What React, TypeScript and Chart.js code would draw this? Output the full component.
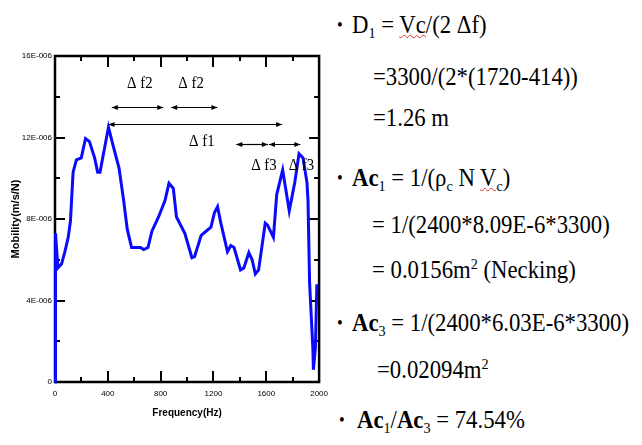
import React, { useEffect, useRef } from 'react';
import { Chart, registerables } from 'chart.js';

Chart.register(...registerables);

// Frequency (Hz)
const freqHz = [
  0, 4, 22, 50, 75, 100, 117, 127, 137, 162, 199, 231, 261, 300, 323, 341, 370, 405, 440, 485,
  520, 547, 580, 647, 672, 704, 734, 784, 833, 863, 896, 920, 983, 1037, 1057, 1107, 1144, 1181,
  1207, 1231, 1256, 1306, 1331, 1356, 1405, 1430, 1468, 1493, 1517, 1542, 1592, 1610, 1654, 1679,
  1724, 1774, 1816, 1848, 1878, 1908, 1916, 1928, 1953, 1957, 1972, 1983,
];
// Mobility, in units of 1E-006 m/s/N
const mobility = [
  0, 7.3, 5.6, 5.8, 6.4, 7.1, 7.9, 9.1, 10.3, 10.9, 11.0, 11.95, 11.8, 11.0, 10.3, 10.3, 11.3, 12.5, 11.6, 10.5,
  8.9, 7.5, 6.6, 6.6, 6.5, 6.6, 7.4, 8.1, 8.9, 9.75, 9.5, 8.1, 7.3, 6.1, 6.15, 7.2, 7.4, 7.6,
  8.3, 8.6, 7.8, 6.4, 6.7, 6.6, 5.5, 5.6, 6.35, 6.0, 5.3, 5.5, 7.8, 7.7, 7.1, 9.2,
  10.4, 8.4, 9.8, 11.2, 11.0, 9.8, 8.9, 4.85, 1.6, 0.6, 1.7, 4.8,
];

const xMin = 0;
const xMax = 2000;
const xMajorStep = 400;
const xMinorStep = 200;
const yMin = 0;
const yMax = 16;
const yMajorStep = 4;
const yMinorStep = 2;
const yTickLabels = ['0', '4E-006', '8E-006', '12E-006', '16E-006'];

// Dimension arrows (Hz from, Hz to, level in 1E-006)
const arrowFrom = [430, 880, 405, 1373, 1620];
const arrowTo = [820, 1230, 1720, 1612, 1858];
const arrowLevel = [13.5, 13.5, 12.65, 11.7, 11.7];

// Arrow labels
const annoText = ['\u0394 f2', '\u0394 f2', '\u0394 f1', '\u0394 f3', '\u0394 f3'];
const annoFreq = [642, 1030, 1112, 1582, 1866];
const annoLevel = [14.63, 14.63, 11.78, 10.6, 10.6];

const framePlugin = {
  id: 'frameTicks',
  beforeDatasetsDraw(chart: any) {
    const { ctx, chartArea: a, scales } = chart;
    const x = scales.x;
    const y = scales.y;
    ctx.save();
    ctx.strokeStyle = '#000';
    ctx.lineWidth = 2;
    ctx.beginPath();
    for (let f = xMin; f <= xMax; f += xMinorStep) {
      const px = Math.round(x.getPixelForValue(f));
      const len = f % xMajorStep === 0 ? 11 : 5;
      ctx.moveTo(px, a.bottom);
      ctx.lineTo(px, a.bottom - len);
      ctx.moveTo(px, a.top);
      ctx.lineTo(px, a.top + len);
    }
    for (let v = yMin; v <= yMax; v += yMinorStep) {
      const py = Math.round(y.getPixelForValue(v));
      const len = v % yMajorStep === 0 ? 10 : 5;
      ctx.moveTo(a.left, py);
      ctx.lineTo(a.left + len, py);
      ctx.moveTo(a.right, py);
      ctx.lineTo(a.right - len, py);
    }
    ctx.stroke();
    ctx.lineWidth = 2.5;
    ctx.strokeRect(a.left, a.top, a.right - a.left, a.bottom - a.top);
    ctx.restore();
  },
  afterDatasetsDraw(chart: any) {
    const { ctx, scales } = chart;
    const x = scales.x;
    const y = scales.y;
    ctx.save();
    ctx.strokeStyle = '#000';
    ctx.fillStyle = '#000';
    ctx.lineWidth = 1.2;
    const head = (px: number, py: number, dir: number) => {
      ctx.beginPath();
      ctx.moveTo(px, py);
      ctx.lineTo(px - dir * 6, py - 2.6);
      ctx.lineTo(px - dir * 6, py + 2.6);
      ctx.closePath();
      ctx.fill();
    };
    for (let i = 0; i < arrowFrom.length; i++) {
      const x1 = x.getPixelForValue(arrowFrom[i]);
      const x2 = x.getPixelForValue(arrowTo[i]);
      const py = Math.round(y.getPixelForValue(arrowLevel[i])) + 0.5;
      ctx.beginPath();
      ctx.moveTo(x1, py);
      ctx.lineTo(x2, py);
      ctx.stroke();
      head(x1, py, -1);
      head(x2, py, 1);
    }
    ctx.font = '17px "Liberation Serif", "Times New Roman", serif';
    ctx.textAlign = 'center';
    ctx.textBaseline = 'middle';
    for (let i = 0; i < annoText.length; i++) {
      const px = x.getPixelForValue(annoFreq[i]);
      const py = y.getPixelForValue(annoLevel[i]);
      ctx.save();
      ctx.translate(px, py);
      ctx.scale(0.87, 1);
      ctx.fillText(annoText[i], 0, 0);
      ctx.restore();
    }
    ctx.restore();
  },
};

const serif = '"Liberation Serif", "Times New Roman", serif';

const lineStyle = (left: number, centerY: number): React.CSSProperties => ({
  position: 'absolute',
  left,
  top: centerY - 15,
  fontFamily: serif,
  fontSize: 25,
  lineHeight: '30px',
  whiteSpace: 'nowrap',
  color: '#000',
  transform: 'scaleX(0.91)',
  transformOrigin: 'left center',
});

const subStyle: React.CSSProperties = { fontSize: '62%', verticalAlign: '-0.3em', lineHeight: 0 };
const supStyle: React.CSSProperties = { fontSize: '62%', verticalAlign: '0.55em', lineHeight: 0 };
const wavy: React.CSSProperties = {
  textDecorationLine: 'underline',
  textDecorationStyle: 'wavy',
  textDecorationColor: '#e03030',
  textDecorationThickness: '1px',
};

const Bullet = ({ left, centerY }: { left: number; centerY: number }) => (
  <div style={{ ...lineStyle(left, centerY), fontSize: 18 }}>{'\u2022'}</div>
);

export default function App() {
  const canvasRef = useRef<HTMLCanvasElement | null>(null);

  useEffect(() => {
    const canvas = canvasRef.current;
    if (!canvas) return;
    const chart = new Chart(canvas, {
      type: 'line',
      data: {
        datasets: [
          {
            data: freqHz.map((f, i) => ({ x: f, y: mobility[i] })),
            borderColor: '#0a0aff',
            borderWidth: 3,
            pointRadius: 0,
            tension: 0,
            fill: false,
            clip: 4,
          } as any,
        ],
      },
      options: {
        responsive: false,
        animation: false,
        events: [],
        layout: { padding: { left: 0, right: 12, top: 56, bottom: 0 } },
        plugins: {
          legend: { display: false },
          tooltip: { enabled: false },
          title: { display: false },
        },
        scales: {
          x: {
            type: 'linear',
            min: xMin,
            max: xMax,
            grid: { display: false, drawTicks: false },
            border: { display: false },
            ticks: {
              stepSize: xMajorStep,
              padding: 7,
              color: '#000',
              font: { family: '"Liberation Sans", Arial, sans-serif', size: 8 },
              maxRotation: 0,
              callback: (v: any) => String(v),
            },
            title: {
              display: true,
              text: 'Frequency(Hz)',
              color: '#000',
              font: { family: '"Liberation Sans", Arial, sans-serif', size: 10, weight: 'bold' },
              padding: { top: 0, bottom: 26 },
            },
            afterFit: (scale: any) => {
              scale.height = 63;
            },
          },
          y: {
            type: 'linear',
            min: yMin,
            max: yMax,
            grid: { display: false, drawTicks: false },
            border: { display: false },
            ticks: {
              stepSize: yMajorStep,
              padding: 3,
              color: '#000',
              font: { family: '"Liberation Sans", Arial, sans-serif', size: 8 },
              callback: (v: any) => yTickLabels[Math.round(Number(v) / yMajorStep)] ?? '',
            },
            title: {
              display: true,
              text: 'Mobility(m/s/N)',
              color: '#000',
              font: { family: '"Liberation Sans", Arial, sans-serif', size: 11, weight: 'bold' },
              padding: { top: 9, bottom: 0 },
            },
            afterFit: (scale: any) => {
              scale.width = 55;
            },
          },
        },
      },
      plugins: [framePlugin],
    } as any);
    return () => chart.destroy();
  }, []);

  return (
    <div
      style={{
        position: 'fixed',
        left: 0,
        top: 0,
        width: 642,
        height: 445,
        background: '#fff',
        overflow: 'hidden',
      }}
    >
      <canvas
        ref={canvasRef}
        width={335}
        height={445}
        style={{ position: 'absolute', left: 0, top: 0, width: 335, height: 445 }}
      />

      <Bullet left={337} centerY={25} />
      <div style={lineStyle(352, 25)}>
        D<sub style={subStyle}>1</sub> = <span style={wavy}>Vc</span>/(2 {'\u0394'}f)
      </div>
      <div style={lineStyle(373, 77)}>=3300/(2*(1720-414))</div>
      <div style={lineStyle(373, 118)}>=1.26 m</div>

      <Bullet left={337} centerY={178} />
      <div style={lineStyle(352, 178)}>
        <b>Ac</b>
        <sub style={subStyle}>1</sub> = 1/({'\u03C1'}
        <sub style={subStyle}>c</sub> N <span style={wavy}>V<sub style={subStyle}>c</sub></span>)
      </div>
      <div style={lineStyle(372, 225)}>= 1/(2400*8.09E-6*3300)</div>
      <div style={lineStyle(372, 270)}>
        = 0.0156m<sup style={supStyle}>2</sup> (Necking)
      </div>

      <Bullet left={337} centerY={323} />
      <div style={lineStyle(352, 323)}>
        <b>Ac</b>
        <sub style={subStyle}>3</sub> = 1/(2400*6.03E-6*3300)
      </div>
      <div style={lineStyle(377, 370)}>
        =0.02094m<sup style={supStyle}>2</sup>
      </div>

      <Bullet left={339} centerY={420} />
      <div style={lineStyle(357, 420)}>
        <b>Ac</b>
        <sub style={subStyle}>1</sub>/<b>Ac</b>
        <sub style={subStyle}>3</sub> = 74.54%
      </div>
    </div>
  );
}
